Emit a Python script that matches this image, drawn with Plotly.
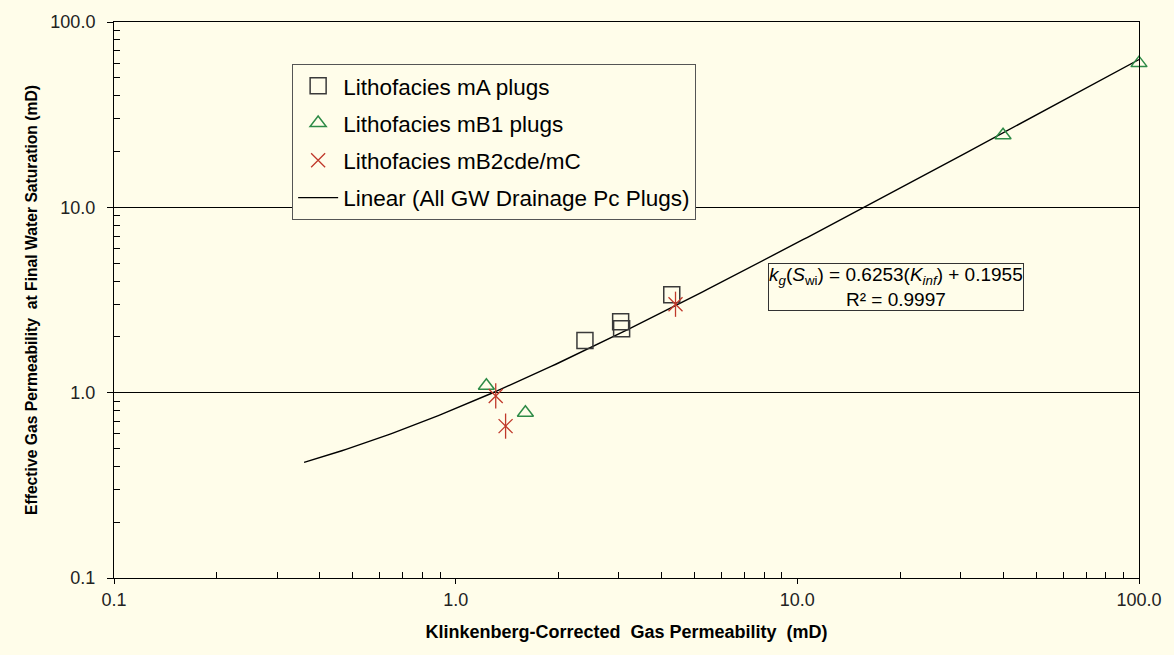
import numpy as np
import plotly.graph_objects as go

# ---- data ----
mA_x = [2.39, 3.04, 3.06, 4.29]
mA_y = [1.91, 2.41, 2.21, 3.38]

mB1_x = [1.23, 1.60, 40.0, 100.0]
mB1_y = [1.09, 0.78, 24.5, 60.0]

mB2_x = [1.31, 1.40, 4.40]
mB2_y = [0.96, 0.66, 3.00]

trend_slope = 0.6253
trend_intercept = 0.1955
trend_x_start = 0.36
trend_x_end = 100.0

x_tick_vals = [0.1, 1, 10, 100]
x_tick_text = ["0.1", "1.0", "10.0", "100.0"]
y_tick_vals = [0.1, 1, 10, 100]
y_tick_text = ["0.1", "1.0", "10.0", "100.0"]

BG = "#FFFDEA"
FONT = "Liberation Sans, Arial, sans-serif"

trend_x = np.geomspace(trend_x_start, trend_x_end, 200)
trend_y = trend_slope * trend_x + trend_intercept

minor_vals = [m * 10.0 ** e for e in (-1, 0, 1) for m in range(2, 10)]

fig = go.Figure()
fig.add_trace(go.Scatter(
    x=trend_x, y=trend_y, mode="lines", name="Linear (All GW Drainage Pc Plugs)",
    line=dict(color="black", width=1.4), legendgroup="d", legendrank=4, hoverinfo="skip"))
fig.add_trace(go.Scatter(
    x=mA_x, y=mA_y, mode="markers", name="Lithofacies mA plugs", legendgroup="a", legendrank=1,
    cliponaxis=False,
    marker=dict(symbol="square-open", size=16, color="#3a3a3a", line=dict(width=1.5))))
fig.add_trace(go.Scatter(
    x=mB1_x, y=mB1_y, mode="markers", name="Lithofacies mB1 plugs", legendgroup="b", legendrank=2,
    cliponaxis=False,
    marker=dict(symbol="triangle-up-open", size=14, color="#2E8B47", line=dict(width=1.5))))
fig.add_trace(go.Scatter(
    x=mB2_x, y=mB2_y, mode="markers", name="Lithofacies mB2cde/mC", legendgroup="c", legendrank=3,
    cliponaxis=False,
    marker=dict(symbol="x-thin-open", size=14, color="#C0392B", line=dict(width=1.3))))
fig.add_trace(go.Scatter(
    x=mB2_x, y=mB2_y, mode="markers", showlegend=False, legendgroup="c",
    cliponaxis=False,
    marker=dict(symbol="line-ns-open", size=18, color="#C0392B", line=dict(width=1.3))))

fig.update_layout(
    width=1174, height=655,
    margin=dict(l=114, r=30, t=18, b=77),
    paper_bgcolor=BG, plot_bgcolor=BG,
    font=dict(family=FONT, color="black"),
    showlegend=True,
    legend=dict(
        x=(293 - 114) / 1030, y=1 - (60 - 18) / 560, xanchor="left", yanchor="top",
        bgcolor=BG, bordercolor="#555555", borderwidth=1,
        font=dict(family=FONT, size=22.5, color="black"),
        tracegroupgap=5, traceorder="grouped", itemwidth=40,
    ),
)

fig.update_xaxes(
    type="log", range=[-1, 2],
    tickvals=x_tick_vals, ticktext=x_tick_text,
    tickfont=dict(family=FONT, size=18, color="#222"),
    ticks="outside", ticklen=5, tickcolor="black",
    showgrid=False, zeroline=False,
    showline=True, linecolor="black", linewidth=1, mirror=True,
    minor=dict(tickvals=minor_vals, ticks="inside", ticklen=6, tickcolor="black", showgrid=False),
    title=dict(text="<b>Klinkenberg-Corrected  Gas Permeability  (mD)</b>",
               font=dict(family=FONT, size=18, color="black"), standoff=16),
)
fig.update_yaxes(
    type="log", range=[-1, 2],
    tickvals=y_tick_vals, ticktext=y_tick_text,
    tickfont=dict(family=FONT, size=18, color="#222"),
    ticks="outside", ticklen=6, tickcolor="black", ticklabelstandoff=8,
    showgrid=True, gridcolor="black", gridwidth=1, zeroline=False,
    showline=True, linecolor="black", linewidth=1, mirror=True,
    minor=dict(tickvals=minor_vals, ticks="inside", ticklen=6, tickcolor="black", showgrid=False),
    title=dict(text="<b>Effective Gas Permeability  at Final Water Saturation (mD)</b>",
               font=dict(family=FONT, size=15.7, color="black"), standoff=8),
)

fig.add_annotation(
    xref="paper", yref="paper",
    x=(900 - 114) / 1030, y=1 - (285 - 18) / 560,
    xanchor="center", yanchor="middle", showarrow=False, align="center",
    text="<i>k</i><sub><i>g</i></sub>(<i>S</i><sub>wi</sub>) = 0.6253(<i>K</i><sub><i>inf</i></sub>) + 0.1955<br>R² = 0.9997",
    font=dict(family=FONT, size=19, color="black"),
    bgcolor=BG, bordercolor="#333333", borderwidth=1, borderpad=0,
)

fig.write_html("out.html")
